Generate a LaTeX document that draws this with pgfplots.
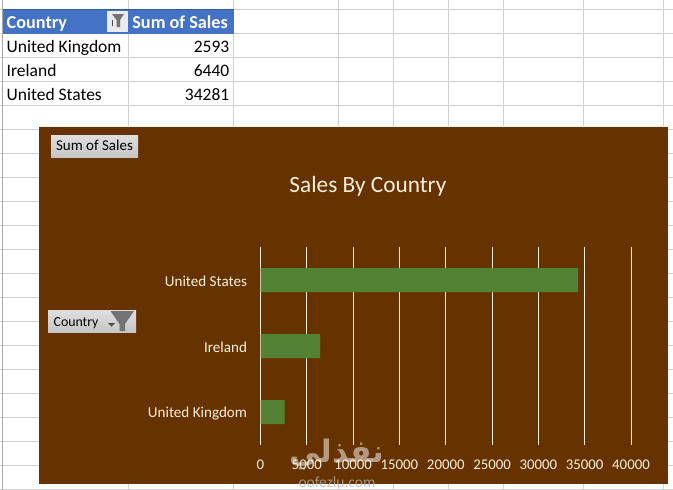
\documentclass[border=0pt]{standalone}
\usepackage{pgfplots}
\pgfplotsset{compat=1.18}
\usepackage{fontspec}
\setmainfont{Carlito}
\newfontfamily\arabicfont[Script=Arabic]{DejaVu Sans}
\TeXXeTstate=1
\definecolor{chartbg}{HTML}{663300}
\definecolor{barg}{HTML}{548235}
\definecolor{cream}{HTML}{FDEFDC}
\definecolor{gridc}{HTML}{D0D0D0}
\definecolor{headb}{HTML}{4472C4}
\definecolor{headd}{HTML}{2F5A9E}
\newcommand{\fs}[1]{\fontsize{#1}{#1}\selectfont}
\begin{document}
\begin{tikzpicture}[x=1pt,y=-1pt]
\path[use as bounding box] (0,0) rectangle (673,490);
\clip (0,0) rectangle (673,490);
\fill[white] (0,0) rectangle (673,490);
% sheet gridlines
\foreach \yy in {9.3,33.3,57.3,81.3,105.3,129.3,153.3,177.3,201.3,225.3,249.3,273.3,297.3,321.3,345.3,369.3,393.3,417.3,441.3,465.3,489.3}
  \draw[gridc,line width=0.8pt] (0,\yy) -- (673,\yy);
\foreach \xx in {128,233.3,338.3,393.3,448.3,503.3,583.3,663.3}
  \draw[gridc,line width=0.8pt] (\xx,0) -- (\xx,490);
\fill[gray!70] (2,0) rectangle (3,490);
% table
\fill[headb] (3,9) rectangle (233.5,33.7);
\fill[headd] (3,8.5) rectangle (233.5,10);
\node[anchor=base west,text=white,inner sep=0] at (6.5,28) {\fs{18.2}\bfseries Country};
\node[anchor=base east,text=white,inner sep=0] at (228,28) {\fs{18.2}\bfseries Sum of Sales};
\fill[white!92!black] (107,11) rectangle (127.5,32);
\fill[gray!90!black] (112,14) -- (124,14) -- (120,20) -- (120,27) -- (116.5,27) -- (116.5,20) -- cycle;
\draw[black!70,line width=0.7pt] (112,26) -- (112,20);
\foreach \nm/\val/\yy in {United Kingdom/2593/52,Ireland/6440/76,United States/34281/100}{
  \node[anchor=base west,text=black,inner sep=0] at (6.5,\yy) {\fs{17.5}\nm};
  \node[anchor=base east,text=black,inner sep=0] at (229.5,\yy) {\fs{17.5}\val};
}
% chart area
\fill[chartbg] (39,126) rectangle (668,484);
\draw[white!88!gray,line width=0.6pt] (39,126) -- (668,126);
\node[text=cream,inner sep=0] at (368,186) {\fs{23.3}Sales By Country};
% buttons
\shade[top color=gray!25,bottom color=gray!45] (51,135) rectangle (138,157);
\node[anchor=base,text=black,inner sep=0] at (94.5,150.7) {\fs{15}Sum of Sales};
\shade[top color=gray!25,bottom color=gray!45] (48,310) rectangle (136,332);
\node[anchor=base west,text=black,inner sep=0] at (53.5,326) {\fs{13.8}Country};
\fill[gray!90!black] (110.5,311) -- (134,311) -- (125,324) -- (125,331) -- (119.5,331) -- (119.5,324) -- cycle;
\fill[black!70] (108,323) -- (115,323) -- (111.5,326.5) -- cycle;
% plot
\begin{axis}[
  at={(260.5pt,-445pt)},anchor=south west,
  scale only axis,width=370.5pt,height=198pt,
  xmin=0,xmax=40000,ymin=-0.5,ymax=2.5,
  axis line style={draw=none},
  major tick length=0pt,
  xtick={0,5000,10000,15000,20000,25000,30000,35000,40000},
  ytick={0,1,2},
  yticklabels={United Kingdom,Ireland,United States},
  xmajorgrids,
  grid style={cream,line width=0.8pt},
  scaled x ticks=false,
  /pgf/number format/assume math mode=true,
  /pgf/number format/fixed,
  /pgf/number format/1000 sep={},
  xticklabel style={text=cream,font=\fs{14.8},yshift=-11.5pt},
  yticklabel style={text=cream,font=\fs{15.1},xshift=-10pt,yshift=-1.2pt},
  clip=false,
  xbar,bar width=24pt,
]
\addplot[fill=barg,draw=none] coordinates {(2593,0) (6440,1) (34281,2)};
\end{axis}
% watermark
\node[text=white,opacity=0.5,inner sep=0] at (337,455) {\arabicfont\fs{31}\bfseries\beginR نفذلي\endR};
\node[text=gray!60,opacity=0.75,inner sep=0] at (337,482) {\fs{15.5}oofezlu.com};
\end{tikzpicture}
\end{document}
